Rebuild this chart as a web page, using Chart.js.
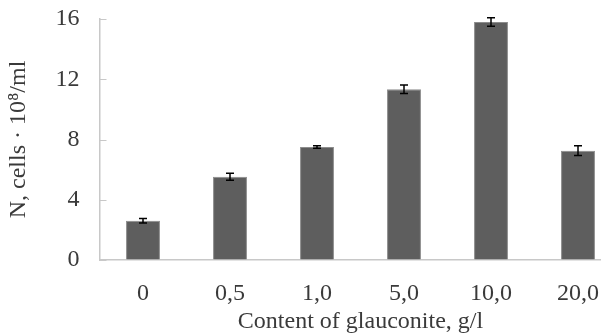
<!DOCTYPE html>
<html>
<head>
<meta charset="utf-8">
<script src="https://cdn.jsdelivr.net/npm/chart.js@4/dist/chart.umd.min.js"></script>
<style>
  html, body { margin: 0; padding: 0; background: #fff; overflow: hidden; }
  .wrap { width: 624px; height: 340px; position: relative; }
</style>
</head>
<body>
<div class="wrap"><canvas id="glauconiteChart"></canvas></div>
<script>
// data
const categories = ['0', '0,5', '1,0', '5,0', '10,0', '20,0'];
const cellCounts = [2.6, 5.53, 7.5, 11.33, 15.8, 7.26];
const cellErrors = [0.15, 0.23, 0.08, 0.28, 0.28, 0.32];
const yTicks = [0, 4, 8, 12, 16];

const serif = '"Liberation Serif", "Times New Roman", serif';
const textColor = '#3a3a3a';
const axisColor = '#c8c8c8';

// error bars on top of each bar
const errorBars = {
    id: 'errorBars',
    afterDatasetsDraw(chart) {
        const ctx = chart.ctx;
        const yScale = chart.scales.y;
        const meta = chart.getDatasetMeta(0);
        ctx.save();
        ctx.strokeStyle = '#000';
        ctx.lineWidth = 1.5;
        meta.data.forEach((bar, i) => {
            const v = cellCounts[i];
            const e = cellErrors[i];
            const yTop = yScale.getPixelForValue(v + e);
            const yBot = yScale.getPixelForValue(v - e);
            const x = bar.x;
            ctx.beginPath();
            ctx.moveTo(x, yTop);
            ctx.lineTo(x, yBot);
            ctx.moveTo(x - 4, yTop);
            ctx.lineTo(x + 4, yTop);
            ctx.moveTo(x - 4, yBot);
            ctx.lineTo(x + 4, yBot);
            ctx.stroke();
        });
        ctx.restore();
    }
};

// small tick marks pointing into the plot on the y axis
const innerTicks = {
    id: 'innerTicks',
    beforeDatasetsDraw(chart) {
        const ctx = chart.ctx;
        const yScale = chart.scales.y;
        const left = chart.chartArea.left;
        ctx.save();
        ctx.strokeStyle = axisColor;
        ctx.lineWidth = 1;
        yTicks.forEach(t => {
            const y = Math.round(yScale.getPixelForValue(t)) + 0.5;
            ctx.beginPath();
            ctx.moveTo(left, y);
            ctx.lineTo(left + 7, y);
            ctx.stroke();
        });
        ctx.restore();
    }
};

function drawChart() {
    const ctx = document.getElementById('glauconiteChart').getContext('2d');
    new Chart(ctx, {
        type: 'bar',
        data: {
            labels: categories,
            datasets: [{
                data: cellCounts,
                backgroundColor: '#5e5e5e',
                borderColor: '#8c8c8c',
                borderWidth: 1,
                barPercentage: 0.39,
                categoryPercentage: 1
            }]
        },
        options: {
            responsive: true,
            maintainAspectRatio: false,
            animation: false,
            layout: { padding: { top: 19, right: 2.5, bottom: 0, left: 0 } },
            plugins: {
                legend: { display: false },
                tooltip: { enabled: false }
            },
            scales: {
                x: {
                    afterFit: (scale) => { scale.height = 80; },
                    grid: { drawOnChartArea: false, drawTicks: false },
                    border: { display: true, color: axisColor, width: 1.5 },
                    ticks: {
                        color: textColor,
                        padding: 19,
                        font: { family: serif, size: 24 }
                    },
                    title: {
                        display: true,
                        text: 'Content of glauconite, g/l',
                        color: textColor,
                        font: { family: serif, size: 24 },
                        padding: { top: 2, bottom: 3.6 }
                    }
                },
                y: {
                    min: 0,
                    max: 16,
                    afterBuildTicks: (scale) => {
                        scale.ticks = yTicks.map(v => ({ value: v }));
                    },
                    afterFit: (scale) => {
                        scale.width = 99.5;
                        scale.paddingTop = 0;
                    },
                    grid: { drawOnChartArea: false, drawTicks: false },
                    border: { display: true, color: axisColor, width: 1.5 },
                    ticks: {
                        color: textColor,
                        padding: 20,
                        font: { family: serif, size: 24 }
                    },
                    title: {
                        display: true,
                        text: 'N, cells · 10⁸/ml',
                        color: textColor,
                        font: { family: serif, size: 24 },
                        padding: { top: 4.6, bottom: 2 }
                    }
                }
            }
        },
        plugins: [errorBars, innerTicks]
    });
}

document.fonts.load('24px "Liberation Serif"').then(drawChart, drawChart);
</script>
</body>
</html>
